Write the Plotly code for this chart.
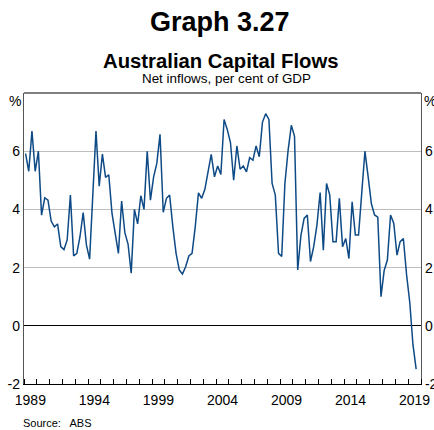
import pandas as pd
import plotly.graph_objects as go

# Quarterly net capital inflows, per cent of GDP (1989Q1 onwards)
start_quarter = "1989Q1"
net_inflows = [
    5.92, 5.31, 6.69, 5.31, 6.00, 3.80, 4.40, 4.32, 3.60, 3.40,
    3.50, 2.72, 2.62, 2.95, 4.49, 2.40, 2.49, 3.06, 3.89, 2.78,
    2.29, 4.50, 6.69, 4.80, 5.90, 5.10, 5.19, 3.86, 3.18, 2.49,
    4.29, 3.20, 2.81, 1.81, 4.00, 3.50, 4.47, 4.00, 6.00, 4.32,
    5.12, 5.58, 6.58, 3.90, 4.38, 4.49, 3.40, 2.49, 1.92, 1.78,
    2.03, 2.40, 2.49, 3.40, 4.57, 4.38, 4.69, 5.35, 5.89, 5.12,
    5.49, 5.20, 7.09, 6.74, 6.29, 5.00, 6.18, 5.38, 5.49, 5.29,
    5.78, 5.69, 6.18, 5.81, 7.00, 7.29, 7.09, 4.89, 4.49, 2.49,
    2.38, 4.89, 6.03, 6.89, 6.51, 1.92, 3.10, 3.69, 3.81, 2.21,
    2.72, 3.46, 4.58, 2.60, 4.89, 4.49, 2.89, 2.89, 4.38, 2.72,
    3.00, 2.31, 4.26, 3.12, 3.12, 4.55, 6.00, 5.12, 4.20, 3.81,
    3.73, 1.00, 1.90, 2.26, 3.81, 3.52, 2.43, 2.89, 3.00, 1.75,
    0.80, -0.65, -1.49,
]
year_labels = ["1989", "1994", "1999", "2004", "2009", "2014", "2019"]
y_ticks = [-2, 0, 2, 4, 6]
first_year, last_year = 1989, 2020

quarters = pd.period_range(start=start_quarter, periods=len(net_inflows), freq="Q")
dates = [p.start_time + (p.end_time - p.start_time) / 2 for p in quarters]

LINE = "#0e4a85"
FONT = "Liberation Sans, Arial, sans-serif"

fig = go.Figure()
fig.add_trace(go.Scatter(x=dates, y=net_inflows, mode="lines",
                         line=dict(color=LINE, width=1.5), showlegend=False,
                         hoverinfo="x+y"))
fig.add_trace(go.Scatter(x=dates, y=net_inflows, mode="lines", yaxis="y2",
                         line=dict(color="rgba(0,0,0,0)", width=0),
                         showlegend=False, hoverinfo="skip"))

W, H = 434, 430
L, R, T, B = 24, 13, 93, 46
plot_h = H - T - B
plot_w = W - L - R


def py(pix):
    return (H - B - pix) / plot_h


def px(pix):
    return (pix - L) / plot_w


fig.update_layout(
    width=W, height=H,
    margin=dict(l=L, r=R, t=T, b=B, pad=0, autoexpand=False),
    paper_bgcolor="white", plot_bgcolor="white",
    font=dict(family=FONT, size=14, color="black"),
    xaxis=dict(
        type="date", automargin=False,
        range=[f"{first_year}-01-01", f"{last_year}-01-01"],
        tickmode="array",
        tickvals=[f"{y}-07-01" for y in year_labels],
        ticktext=year_labels,
        ticks="outside", ticklen=3, tickcolor="rgba(0,0,0,0)",
        showgrid=False,
        showline=True, linecolor="black", linewidth=1.3, mirror=False,
        minor=dict(tickmode="array",
                   tickvals=[f"{y}-01-01" for y in range(first_year, last_year + 1)],
                   ticks="inside", ticklen=5, tickcolor="black", tickwidth=1,
                   showgrid=False),
        tickfont=dict(size=14),
        fixedrange=True,
    ),
    yaxis=dict(
        range=[-2, 8], automargin=False,
        tickmode="array", tickvals=y_ticks, ticktext=[str(v) for v in y_ticks],
        ticks="",
        showgrid=True, gridcolor="#bdbdbd", gridwidth=1,
        zeroline=True, zerolinecolor="black", zerolinewidth=1.2,
        showline=True, linecolor="#555555", linewidth=1.3,
        tickfont=dict(size=14),
        fixedrange=True,
    ),
    yaxis2=dict(
        range=[-2, 8], overlaying="y", side="right", automargin=False,
        tickmode="array", tickvals=y_ticks, ticktext=[str(v) for v in y_ticks],
        ticks="",
        showgrid=False, zeroline=False,
        showline=True, linecolor="#555555", linewidth=1.3,
        tickfont=dict(size=14),
        fixedrange=True,
    ),
    shapes=[
        dict(type="line", xref="paper", yref="paper", x0=0, x1=1, y0=1, y1=1,
             line=dict(color="#555555", width=1.3)),
    ],
    annotations=[
        dict(text="<b>Graph 3.27</b>", xref="paper", yref="paper", x=px(220), y=py(22),
             xanchor="center", yanchor="middle", showarrow=False,
             font=dict(size=27, family=FONT)),
        dict(text="<b>Australian Capital Flows</b>", xref="paper", yref="paper",
             x=px(221), y=py(61), xanchor="center", yanchor="middle", showarrow=False,
             font=dict(size=20.3, family=FONT)),
        dict(text="Net inflows, per cent of GDP", xref="paper", yref="paper",
             x=px(226), y=py(79), xanchor="center", yanchor="middle", showarrow=False,
             font=dict(size=13.4, family=FONT)),
        dict(text="%", xref="paper", yref="paper", x=0, y=py(101),
             xanchor="right", yanchor="middle", xshift=-1, showarrow=False,
             font=dict(size=14, family=FONT)),
        dict(text="%", xref="paper", yref="paper", x=1, y=py(101),
             xanchor="left", yanchor="middle", xshift=1, showarrow=False,
             font=dict(size=14, family=FONT)),
        dict(text="Source:   ABS", xref="paper", yref="paper", x=px(21), y=py(423),
             xanchor="left", yanchor="middle", showarrow=False,
             font=dict(size=11, family=FONT)),
    ],
)

fig.write_html(
    "out.html",
    config={"displayModeBar": False},
    post_script="document.body.style.margin='0';document.body.style.padding='0';",
)
